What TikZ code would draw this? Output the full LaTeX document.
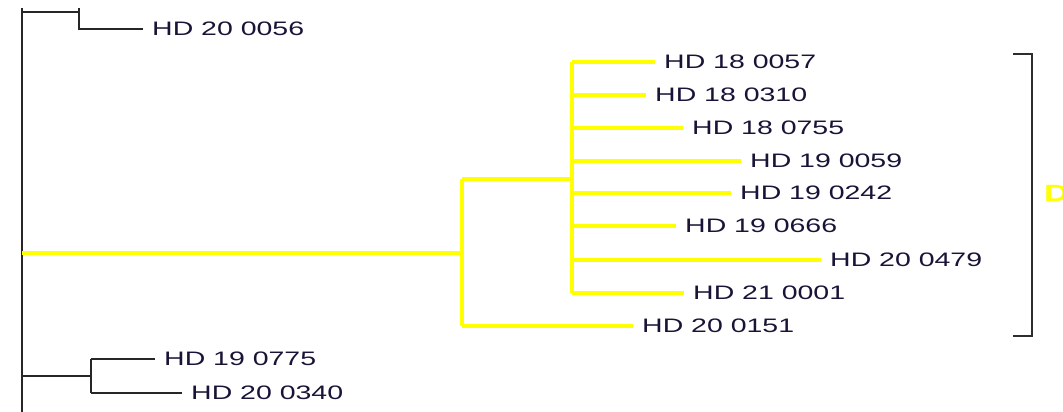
\documentclass[tikz,border=0pt]{standalone}
\usepackage{fontspec}
\setmainfont{Liberation Sans}
\usepackage{graphicx}
\definecolor{txt}{RGB}{25,20,55}
\definecolor{ylw}{RGB}{255,255,0}
\definecolor{brk}{RGB}{45,45,45}
\newcommand{\lbl}[1]{\scalebox{1.46}[1]{#1}}
\begin{document}
\begin{tikzpicture}[x=1pt,y=-1pt,
  leaf/.style={anchor=west, inner xsep=9pt, inner ysep=0pt, text=txt, font=\fontsize{19.5}{20}\selectfont},
  blk/.style={draw=black!85, line width=2pt},
  yl/.style={draw=ylw, line width=3.4pt},
  brkt/.style={draw=brk, line width=1.8pt}]
\useasboundingbox (0,0) rectangle (1063,412);
\clip (0,0) rectangle (1063,412);
% junction coordinates
\coordinate (rtop) at (22,8);
\coordinate (rbot) at (22,416);
\coordinate (ra) at (22,12);
\coordinate (ja) at (79,12);
\coordinate (jatop) at (79,8);
\coordinate (ry) at (22,253);
\coordinate (jy) at (462,253);
\coordinate (jyt) at (462,179);
\coordinate (jyb) at (462,326);
\coordinate (jz) at (572,179);
\coordinate (jzt) at (572,62);
\coordinate (jzb) at (572,293);
\coordinate (rb) at (22,376);
\coordinate (jb) at (91,376);
\coordinate (jbt) at (91,359);
\coordinate (jbb) at (91,393);
% leaves
\node[leaf] (n0056) at (143,29) {\lbl{HD 20 0056}};
\node[leaf] (n1) at (655,62) {\lbl{HD 18 0057}};
\node[leaf] (n2) at (646,95) {\lbl{HD 18 0310}};
\node[leaf] (n3) at (683,128) {\lbl{HD 18 0755}};
\node[leaf] (n4) at (741,161) {\lbl{HD 19 0059}};
\node[leaf] (n5) at (731,193) {\lbl{HD 19 0242}};
\node[leaf] (n6) at (676,226) {\lbl{HD 19 0666}};
\node[leaf] (n7) at (821,260) {\lbl{HD 20 0479}};
\node[leaf] (n8) at (684,293) {\lbl{HD 21 0001}};
\node[leaf] (n0151) at (633,326) {\lbl{HD 20 0151}};
\node[leaf] (n0775) at (155,359) {\lbl{HD 19 0775}};
\node[leaf] (n0340) at (182,393) {\lbl{HD 20 0340}};
% black tree
\draw[blk] (rtop) -- (rbot);
\draw[blk] (ra) -- (ja);
\draw[blk] (jatop) |- (n0056.west);
\draw[blk] (rb) -- (jb);
\draw[blk] (jbt) -- (jbb);
\draw[blk] (jbt) -- (n0775.west);
\draw[blk] (jbb) -- (n0340.west);
% yellow clade
\draw[yl] (ry) -- (jy);
\draw[yl] (jyt) -- (jyb);
\draw[yl] (jyt) -- (jz);
\draw[yl] (jyb) -- (n0151.west);
\draw[yl] (jzt) -- (jzb);
\foreach \n in {n1,n2,n3,n4,n5,n6,n7,n8}
  \draw[yl] (jzt |- \n.west) -- (\n.west);
% bracket
\coordinate (bt) at (1013,54);
\coordinate (bb) at (1013,336);
\draw[brkt] (bt) -- ++(19,0) |- (bb);
\node[anchor=west, inner sep=0pt, text=ylw, font=\fontsize{23.5}{24}\selectfont\bfseries] (dlab) at (1044,193) {\lbl{D}};
\end{tikzpicture}
\end{document}
